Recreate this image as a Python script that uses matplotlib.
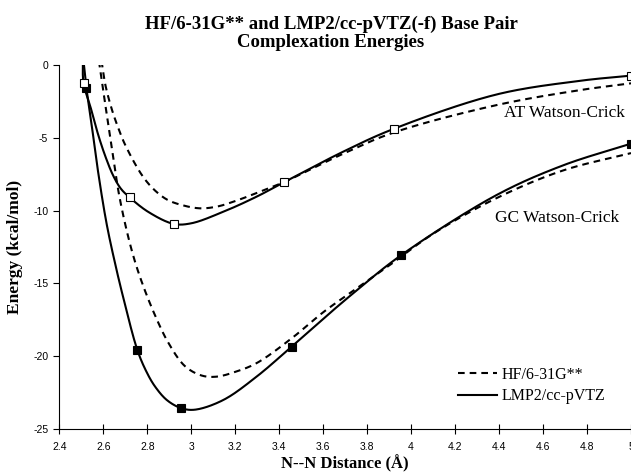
import numpy as np
import matplotlib
matplotlib.use("Agg")
import matplotlib.pyplot as plt
from matplotlib.lines import Line2D

# ---- data ----
# LMP2/cc-pVTZ computed points (markers)
at_lmp2_x = [2.51, 2.72, 2.92, 3.42, 3.92, 5.0]
at_lmp2_y = [-1.2, -9.1, -10.92, -8.07, -4.4, -0.72]
gc_lmp2_x = [2.523, 2.755, 2.955, 3.456, 3.953, 5.0]
gc_lmp2_y = [-1.55, -19.6, -23.6, -19.37, -13.09, -5.4]

# smooth curves
at_lmp2_cx = [2.507, 2.51, 2.545, 2.577, 2.61, 2.645, 2.68, 2.72, 2.805, 2.92, 3.0, 3.145, 3.297, 3.42, 3.69, 3.918, 4.388, 4.767, 5.0]
at_lmp2_cy = [0.4, -1.2, -3.05, -4.8, -6.3, -7.6, -8.5, -9.1, -10.1, -10.92, -10.88, -10.09, -9.05, -8.07, -5.96, -4.4, -2.02, -1.08, -0.72]
gc_lmp2_cx = [2.51, 2.523, 2.547, 2.577, 2.615, 2.653, 2.691, 2.755, 2.795, 2.835, 2.89, 2.955, 3.017, 3.145, 3.297, 3.456, 3.6, 3.752, 3.953, 4.388, 4.69, 5.0]
gc_lmp2_cy = [0.3, -1.55, -4.1, -7.4, -10.9, -13.6, -16.0, -19.6, -21.05, -22.1, -23.05, -23.6, -23.7, -23.04, -21.43, -19.37, -17.45, -15.5, -13.09, -8.94, -6.9, -5.4]
at_hf_cx = [2.592, 2.61, 2.64, 2.67, 2.70, 2.775, 2.83, 2.89, 2.956, 3.04, 3.12, 3.2, 3.312, 3.418, 3.69, 3.918, 4.388, 4.767, 5.0]
at_hf_cy = [0.3, -1.4, -3.1, -4.4, -5.5, -7.55, -8.55, -9.25, -9.62, -9.85, -9.72, -9.35, -8.71, -8.07, -6.1, -4.65, -2.75, -1.72, -1.25]
gc_hf_cx = [2.58, 2.6, 2.623, 2.646, 2.668, 2.699, 2.736, 2.777, 2.835, 2.896, 2.971, 3.047, 3.115, 3.2, 3.297, 3.456, 3.6, 3.752, 3.903, 4.1, 4.388, 4.69, 5.0]
gc_hf_cy = [0.3, -1.8, -4.1, -6.4, -8.6, -10.9, -13.1, -15.0, -17.2, -19.1, -20.7, -21.35, -21.43, -21.1, -20.5, -18.8, -17.0, -15.36, -13.75, -11.6, -9.15, -7.25, -6.05]

x_ticks = [2.4, 2.6, 2.8, 3.0, 3.2, 3.4, 3.6, 3.8, 4.0, 4.2, 4.4, 4.6, 4.8, 5.0]
x_tick_labels = ["2.4", "2.6", "2.8", "3", "3.2", "3.4", "3.6", "3.8", "4", "4.2", "4.4", "4.6", "4.8", "5"]
y_ticks = [0, -5, -10, -15, -20, -25]
y_tick_labels = ["0", "-5", "-10", "-15", "-20", "-25"]

title = "HF/6-31G** and LMP2/cc-pVTZ(-f) Base Pair\nComplexation Energies"
xlabel = "N--N Distance (Å)"
ylabel = "Energy (kcal/mol)"
legend_labels = ["HF/6-31G**", "LMP2/cc-pVTZ"]


def smooth(xs, ys, n=30, sx=220.0, sy=14.54, alpha=0.5):
    """Centripetal Catmull-Rom curve through the given points."""
    pts = np.column_stack([np.asarray(xs) * sx, np.asarray(ys) * sy])
    p = np.vstack([2 * pts[0] - pts[1], pts, 2 * pts[-1] - pts[-2]])
    out = []
    for i in range(1, len(p) - 2):
        P0, P1, P2, P3 = p[i - 1], p[i], p[i + 1], p[i + 2]
        t0 = 0.0
        t1 = t0 + max(np.linalg.norm(P1 - P0), 1e-6) ** alpha
        t2 = t1 + max(np.linalg.norm(P2 - P1), 1e-6) ** alpha
        t3 = t2 + max(np.linalg.norm(P3 - P2), 1e-6) ** alpha
        t = np.linspace(t1, t2, n)[:, None]
        A1 = (t1 - t) / (t1 - t0) * P0 + (t - t0) / (t1 - t0) * P1
        A2 = (t2 - t) / (t2 - t1) * P1 + (t - t1) / (t2 - t1) * P2
        A3 = (t3 - t) / (t3 - t2) * P2 + (t - t2) / (t3 - t2) * P3
        B1 = (t2 - t) / (t2 - t0) * A1 + (t - t0) / (t2 - t0) * A2
        B2 = (t3 - t) / (t3 - t1) * A2 + (t - t1) / (t3 - t1) * A3
        C = (t2 - t) / (t2 - t1) * B1 + (t - t1) / (t2 - t1) * B2
        out.append(C if i == 1 else C[1:])
    c = np.vstack(out)
    return c[:, 0] / sx, c[:, 1] / sy


plt.rcParams['font.family'] = ['Liberation Serif', 'DejaVu Serif']

fig = plt.figure(figsize=(6.31, 4.72), dpi=100)
ax = fig.add_axes([0.094, 0.092, 0.906, 0.770])

dash = (0, (3.2, 2.4))
lw = 1.5
for cx, cy in [(at_hf_cx, at_hf_cy), (gc_hf_cx, gc_hf_cy)]:
    sx_, sy_ = smooth(cx, cy)
    ax.plot(sx_, sy_, color='black', lw=lw, linestyle=dash, zorder=2)
for cx, cy in [(at_lmp2_cx, at_lmp2_cy), (gc_lmp2_cx, gc_lmp2_cy)]:
    sx_, sy_ = smooth(cx, cy)
    ax.plot(sx_, sy_, color='black', lw=lw, linestyle='-', zorder=3)

ax.plot(gc_lmp2_x, gc_lmp2_y, linestyle='none', marker='s', ms=6.3,
        mfc='black', mec='black', mew=0.8, zorder=4)
ax.plot(at_lmp2_x, at_lmp2_y, linestyle='none', marker='s', ms=6.3,
        mfc='white', mec='black', mew=0.8, zorder=5)

ax.set_xlim(2.4, 5.0)
ax.set_ylim(-25, 0)
ax.set_xticks(x_ticks)
ax.set_xticklabels(x_tick_labels, family=['Liberation Sans', 'DejaVu Sans'], fontsize=7.5)
ax.set_yticks(y_ticks)
ax.set_yticklabels(y_tick_labels, family=['Liberation Sans', 'DejaVu Sans'], fontsize=7.5)
ax.tick_params(axis='x', direction='inout', length=7, width=0.8, pad=6)
ax.tick_params(axis='y', direction='out', length=4, width=0.8, pad=4)
for s in ['top', 'right']:
    ax.spines[s].set_visible(False)
for s in ['left', 'bottom']:
    ax.spines[s].set_linewidth(0.8)

ax.set_xlabel(xlabel, fontsize=12, fontweight='bold')
ax.xaxis.set_label_coords(0.5, -0.071)
ax.set_ylabel(ylabel, fontsize=12.5, fontweight='bold')
ax.yaxis.set_label_coords(-0.064, 0.5)

fig.text(0.5246, 0.966, title, ha='center', va='top', fontsize=13.5,
         fontweight='bold', linespacing=1.05)

ax.text(4.971, -3.3, "AT Watson-Crick", ha='right', va='center', fontsize=12.5)
ax.text(4.948, -10.5, "GC Watson-Crick", ha='right', va='center', fontsize=12.5)

handles = [Line2D([], [], color='black', lw=lw, linestyle=dash),
           Line2D([], [], color='black', lw=lw, linestyle='-')]
ax.legend(handles, legend_labels, loc='center left', bbox_to_anchor=(0.6974, 0.119),
          frameon=False, fontsize=11.5, handlelength=2.45, handletextpad=0.25,
          labelspacing=0.35, borderpad=0.0, borderaxespad=0.0)

fig.savefig("out.png", dpi=100)
